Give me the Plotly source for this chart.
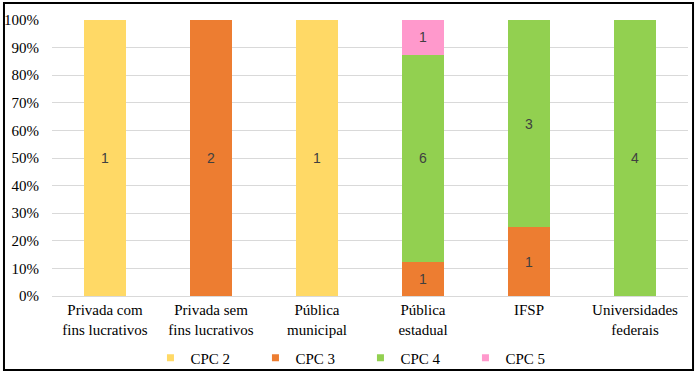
import plotly.graph_objects as go

categories = ["Privada com<br>fins lucrativos", "Privada sem<br>fins lucrativos", "Pública<br>municipal",
              "Pública<br>estadual", "IFSP", "Universidades<br>federais"]
series_names = ["CPC 2", "CPC 3", "CPC 4", "CPC 5"]
cpc2 = [1, 0, 1, 0, 0, 0]
cpc3 = [0, 2, 0, 1, 1, 0]
cpc4 = [0, 0, 0, 6, 3, 4]
cpc5 = [0, 0, 0, 1, 0, 0]
colors = ["#FFD966", "#ED7D31", "#92D050", "#FF99CC"]
tick_vals = [0, 10, 20, 30, 40, 50, 60, 70, 80, 90, 100]
tick_text = [f"{v}%" for v in tick_vals]

SERIF = "Liberation Serif"

fig = go.Figure()
for name, vals, col in zip(series_names, [cpc2, cpc3, cpc4, cpc5], colors):
    fig.add_trace(go.Bar(
        x=categories, y=vals, name=name, marker_color=col, marker_line_width=0,
        text=[str(v) if v else "" for v in vals], textposition="inside",
        insidetextanchor="middle", textangle=0,
        textfont=dict(family="Liberation Sans", size=14, color="#404040"),
        hoverinfo="skip", showlegend=False,
    ))
# legend entries as small square markers
for name, col in zip(series_names, colors):
    fig.add_trace(go.Scatter(
        x=[None], y=[None], mode="markers", name=name,
        marker=dict(symbol="square", size=7, color=col), showlegend=True, hoverinfo="skip",
    ))

fig.update_layout(
    barmode="stack", barnorm="percent", bargap=0.6,
    width=698, height=374,
    margin=dict(l=52, r=10, t=20, b=78, autoexpand=False),
    paper_bgcolor="white", plot_bgcolor="white",
    font=dict(family=SERIF, size=15, color="#000000"),
    showlegend=True,
    legend=dict(orientation="h", x=0.485, xanchor="center", yref="container", y=0.043, yanchor="middle",
                font=dict(family=SERIF, size=15), traceorder="normal", itemwidth=30,
                entrywidth=60, bgcolor="rgba(0,0,0,0)"),
    uniformtext=dict(minsize=8, mode="show"),
    shapes=[dict(type="rect", xref="paper", yref="paper", x0=-0.0755, x1=1.0079, y0=-0.268, y1=1.0616,
                 line=dict(color="black", width=2), fillcolor="rgba(0,0,0,0)", layer="above")],
)
fig.update_yaxes(range=[0, 100], tickvals=tick_vals, ticktext=tick_text, showgrid=True,
                 gridcolor="#D9D9D9", gridwidth=1, zeroline=False, ticks="", ticklabelstandoff=12,
                 showline=False, tickfont=dict(family=SERIF, size=15))
fig.update_xaxes(showline=True, linecolor="#D9D9D9", linewidth=1, ticks="", showgrid=False,
                 tickfont=dict(family=SERIF, size=15))

fig.write_html("out.html", config={"displayModeBar": False},
               post_script="document.body.style.margin='0';")
